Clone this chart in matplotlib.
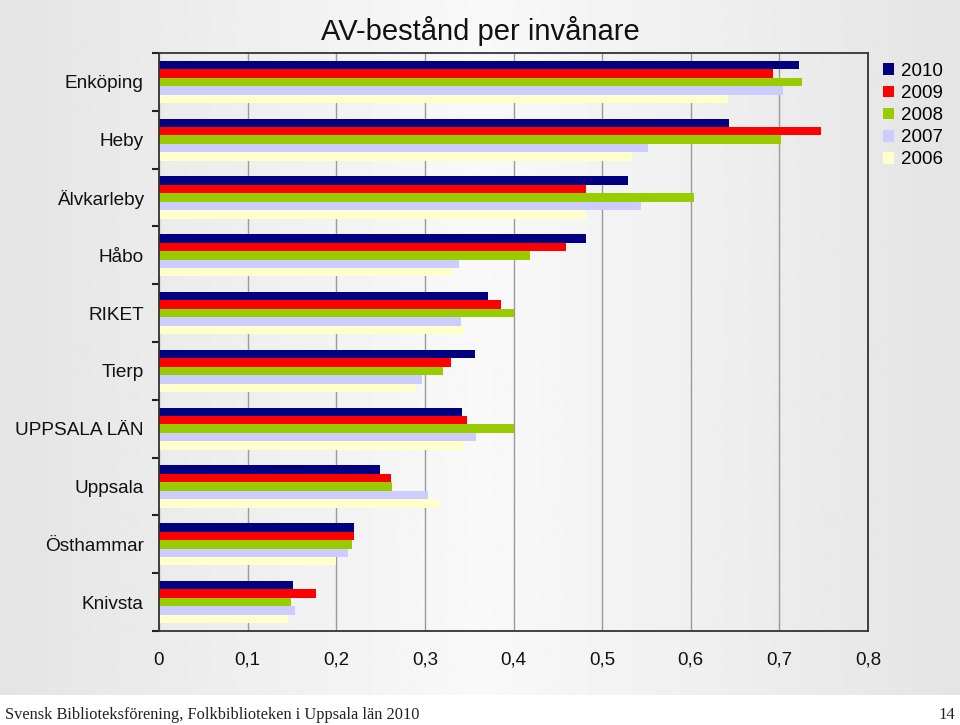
import numpy as np
import matplotlib
matplotlib.use('Agg')
import matplotlib.pyplot as plt
from matplotlib.patches import Patch

plt.rcParams['font.family'] = ['Liberation Sans', 'DejaVu Sans']

# data (top to bottom)
kommuner = ["Enköping", "Heby", "Älvkarleby", "Håbo", "RIKET", "Tierp",
            "UPPSALA LÄN", "Uppsala", "Östhammar", "Knivsta"]
years = ["2010", "2009", "2008", "2007", "2006"]
v2010 = [0.722, 0.643, 0.529, 0.482, 0.371, 0.357, 0.342, 0.249, 0.220, 0.151]
v2009 = [0.693, 0.747, 0.482, 0.459, 0.386, 0.330, 0.348, 0.262, 0.220, 0.177]
v2008 = [0.726, 0.702, 0.604, 0.419, 0.401, 0.321, 0.401, 0.263, 0.218, 0.149]
v2007 = [0.704, 0.552, 0.544, 0.338, 0.341, 0.297, 0.358, 0.304, 0.213, 0.153]
v2006 = [0.642, 0.534, 0.482, 0.332, 0.344, 0.290, 0.344, 0.316, 0.200, 0.146]
xticks = [0, 0.1, 0.2, 0.3, 0.4, 0.5, 0.6, 0.7, 0.8]
xtick_labels = ["0", "0,1", "0,2", "0,3", "0,4", "0,5", "0,6", "0,7", "0,8"]

series = [v2010, v2009, v2008, v2007, v2006]
colors = ["#000080", "#ff0000", "#99cc00", "#ccccff", "#ffffcc"]

fig = plt.figure(figsize=(9.6, 7.25), dpi=100)
fig.patch.set_facecolor("white")

# grey gradient backdrop (slide background)
bg = fig.add_axes([0, 0, 1, 1], zorder=0)
xs = np.linspace(0, 1, 400)
shade = np.interp(xs, [0, 0.5, 1], [0.895, 0.975, 0.895])
bg.imshow(shade[np.newaxis, :], cmap="gray", vmin=0, vmax=1, aspect="auto",
          extent=[0, 1, 30 / 725, 1])
bg.set_xlim(0, 1); bg.set_ylim(0, 1)
bg.axis("off")

ax = fig.add_axes([159 / 960, (725 - 631) / 725, (868 - 159) / 960, (631 - 53) / 725], zorder=1)
ax.patch.set_alpha(0)

y = np.arange(len(kommuner))
h = 0.146
for j, (vals, c) in enumerate(zip(series, colors)):
    ax.barh(y + (j - 2) * h, vals, height=h, color=c, label=years[j], zorder=2)

ax.set_xlim(0, 0.8)
ax.set_ylim(len(kommuner) - 0.5, -0.5)
ax.set_xticks(xticks)
ax.set_xticklabels(xtick_labels)
ax.set_yticks(y)
ax.set_yticklabels(kommuner)
ax.set_yticks(np.arange(-0.5, len(kommuner)), minor=True)
ax.xaxis.grid(True, color="#9a9a9a", lw=1)
ax.set_axisbelow(True)
ax.tick_params(axis="x", length=0, pad=15, labelsize=13.5, labelcolor="#111111")
ax.tick_params(axis="y", which="major", length=0, pad=11, labelsize=13.7, labelcolor="#111111")
ax.tick_params(axis="y", which="minor", length=5, width=1.5, color="#222222")
for s in ax.spines.values():
    s.set_color("#333333")
    s.set_linewidth(1.3)

fig.text(0.5, 1 - 31 / 725, "AV-bestånd per invånare", ha="center", va="center",
         fontsize=21, color="#111111")

handles = [Patch(facecolor=c, edgecolor="none") for c in colors]
fig.legend(handles, years, loc="upper left", bbox_to_anchor=(883 / 960, 1 - 63 / 725),
           frameon=False, fontsize=13.5, handlelength=0.6, handleheight=0.6,
           handletextpad=0.35, labelspacing=0.27, borderpad=0, borderaxespad=0)

fig.text(5 / 960, 1 - 715 / 725, "Svensk Biblioteksförening, Folkbiblioteken i Uppsala län 2010",
         ha="left", va="center", fontsize=11.8, family="Liberation Serif", color="#222222")
fig.text(955 / 960, 1 - 715 / 725, "14", ha="right", va="center", fontsize=12,
         family="Liberation Serif", color="#222222")

fig.savefig("out.png", dpi=100)
